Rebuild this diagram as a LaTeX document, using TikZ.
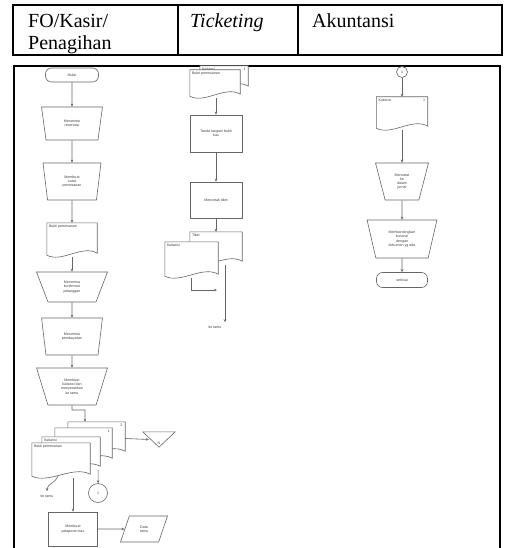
\documentclass[tikz,border=0pt]{standalone}
\usepackage{fontspec}
\setmainfont{Liberation Serif}
\newfontfamily\flowfont{Liberation Sans}
\usetikzlibrary{arrows.meta,shapes.geometric}

\newcommand{\dokumen}[5]{%
  \node[dokbox,minimum width=#3,minimum height=#4] (#1) at #2 {};
  \draw[garis,fill=white] (#1.north west) -- (#1.north east) -- ([yshift=4]#1.south east)
    .. controls ([xshift=-#3*0.3,yshift=13]#1.south east) and ([xshift=#3*0.3,yshift=-6]#1.south west) .. ([yshift=2]#1.south west) -- cycle;
  \node[doklabel,anchor=north west] (#1-t) at ([xshift=1.5,yshift=-1.5]#1.north west) {#5};
}

\begin{document}
\begin{tikzpicture}[x=1pt,y=-1pt,>={Stealth[length=3pt,width=2.6pt]},
  tepi/.style={draw=black,line width=1.5pt},
  judul/.style={font=\fontsize{20}{23}\selectfont,inner sep=0pt},
  garis/.style={draw=black!60,line width=0.6pt},
  panah/.style={garis,->},
  kecil/.style={font=\flowfont\fontsize{3.6}{4.2}\selectfont,text=black!75},
  kotak/.style={rectangle,garis,fill=white,inner sep=1pt,align=center,kecil},
  manual/.style={kotak,trapezium,trapezium angle=78,shape border rotate=180,trapezium stretches=true},
  terminal/.style={kotak,rounded corners=6pt},
  konektor/.style={circle,garis,fill=white,inner sep=0pt,kecil},
  dokbox/.style={rectangle,draw=none,inner sep=0pt},
  doklabel/.style={kecil,inner sep=0.5pt},
  nomor/.style={kecil,inner sep=0.5pt,anchor=north east}]
  \useasboundingbox (0,0) rectangle (507,548);

  \draw[tepi] (13,5) rectangle (502,55);
  \draw[tepi] (178,5) -- (178,55);
  \draw[tepi] (298,5) -- (298,55);
  \draw[tepi] (14,548) -- (14,66) -- (500,66) -- (500,548);
  \draw[draw=black,line width=2.2pt] (14,66) -- (14,548);
  \node[judul,anchor=base west] (kolfo) at (28,28) {FO/Kasir/};
  \node[judul,anchor=base west] (kolfo2) at (28,50) {Penagihan};
  \node[judul,anchor=base west] (koltik) at (190,28) {\itshape Ticketing};
  \node[judul,anchor=base west] (kolakun) at (312,28) {Akuntansi};

  \node[terminal,minimum width=53,minimum height=14] (mulai) at (72,75) {Mulai};
  \node[manual,trapezium angle=80,minimum width=61,minimum height=33] (t1) at (72,123.5) {Menerima\\reservasi};
  \node[manual,trapezium angle=82,minimum width=58,minimum height=37] (t2) at (72,181.5) {Membuat\\surat\\pemesanan};
  \dokumen{bukti1}{(72,240)}{50}{34}{Bukti pemesanan}
  \node[manual,trapezium angle=72,minimum width=71,minimum height=30] (t3) at (72,287) {Menerima\\konfirmasi\\pelanggan};
  \node[manual,trapezium angle=79,minimum width=61,minimum height=37] (t4) at (72,336.5) {Menerima\\pembayaran};
  \node[manual,trapezium angle=72,minimum width=71,minimum height=37] (t5) at (72,386.5) {Membuat\\kuitansi dan\\menyerahkan\\ke tamu};
  \dokumen{dA}{(96.5,438.5)}{57}{33}{}
  \node[nomor] (dA-n) at ([xshift=-2,yshift=-1.5]dA.north east) {2};
  \dokumen{dB}{(83.5,445)}{57}{34}{}
  \node[nomor] (dB-n) at ([xshift=-2,yshift=-1.5]dB.north east) {1};
  \dokumen{dC}{(71,453.5)}{58}{33}{Kuitansi}
  \dokumen{dD}{(61,460.5)}{58}{35}{Bukti pemesanan}
  \node[dokbox,minimum width=32,minimum height=15] (arsip) at (159,439.5) {};
  \draw[garis] (arsip.north west) -- (arsip.north east) -- (arsip.south) -- cycle;
  \node[kecil] (arsip-t) at ([yshift=-4]arsip.center) {N};
  \node[konektor,minimum size=19] (kon1) at (98,493) {1};
  \node[kecil] (ketamu1) at (47,496) {ke tamu};
  \node[kotak,minimum width=49,minimum height=34] (lap) at (73,529) {Membuat\\pelaporan kas};
  \node[kotak,trapezium,trapezium left angle=71,trapezium right angle=109,trapezium stretches=true,minimum width=47,minimum height=26] (datatamu) at (144,529) {Data\\tamu};

  \draw[panah] (mulai) -- (t1);
  \draw[panah] (t1) -- (t2);
  \draw[panah] (t2) -- (bukti1);
  \draw[panah] (bukti1) -- (t3);
  \draw[panah] (t3) -- (t4);
  \draw[panah] (t4) -- (t5);
  \draw[panah] (t5) -- ++(0,23.5) -| ([xshift=-11.5]dA.north);
  \draw[panah] (dA.east) -- ([xshift=6]arsip.west);
  \draw[panah] ([xshift=-2]dC.south east) -- (kon1);
  \draw[panah] ([xshift=-3,yshift=2]dD.south) to[out=-110,in=90] (ketamu1.north);
  \draw[panah] ([xshift=12]dD.south) -- (lap);
  \draw[panah] (lap) -- (datatamu);

  \dokumen{kw2a}{(224,78)}{48}{24}{Kuitansi}
  \node[nomor] (kw2a-n) at ([xshift=-2,yshift=-1.5]kw2a.north east) {1};
  \dokumen{bukti2}{(215,84)}{50}{28}{Bukti pemesanan}
  \node[kotak,minimum width=52,minimum height=37] (r1) at (216,133.5) {Tanda tangani bukti\\kas};
  \node[kotak,minimum width=52,minimum height=36] (r2) at (216,200) {Mencetak tiket};
  \dokumen{tiket}{(216,248.5)}{52}{33}{Tiket}
  \dokumen{kw2}{(191.5,260)}{53}{36}{Kuitansi}
  \coordinate (gabung) at (217,290);
  \node[kecil] (ketamu2) at (215,327) {ke tamu};

  \draw[panah] (bukti2.south -| r1) -- (r1);
  \draw[panah] (r1) -- (r2);
  \draw[panah] (r2) -- (tiket);
  \draw[panah] (kw2.south) |- (gabung);
  \draw[panah] ([xshift=9]tiket.south) -- ([xshift=10]ketamu2.north);

  \node[konektor,minimum size=11] (kon2) at (402,72) {1};
  \dokumen{kw3}{(402,113.5)}{51}{33}{Kuitansi}
  \node[nomor] (kw3-n) at ([xshift=-2,yshift=-1.5]kw3.north east) {1};
  \node[manual,trapezium angle=75,minimum width=53,minimum height=37] (a1) at (402,181.5) {Mencatat\\ke\\dalam\\jurnal};
  \node[manual,trapezium angle=75,minimum width=70,minimum height=38] (a2) at (402,239) {Membandingkan\\kuitansi\\dengan\\dokumen yg ada};
  \node[terminal,minimum width=51,minimum height=15] (selesai) at (402,280) {selesai};

  \draw[panah] (kon2) -- (kw3);
  \draw[panah] (kw3) -- (a1);
  \draw[panah] (a1) -- (a2);
  \draw[panah] (a2) -- (selesai);
\end{tikzpicture}
\end{document}
